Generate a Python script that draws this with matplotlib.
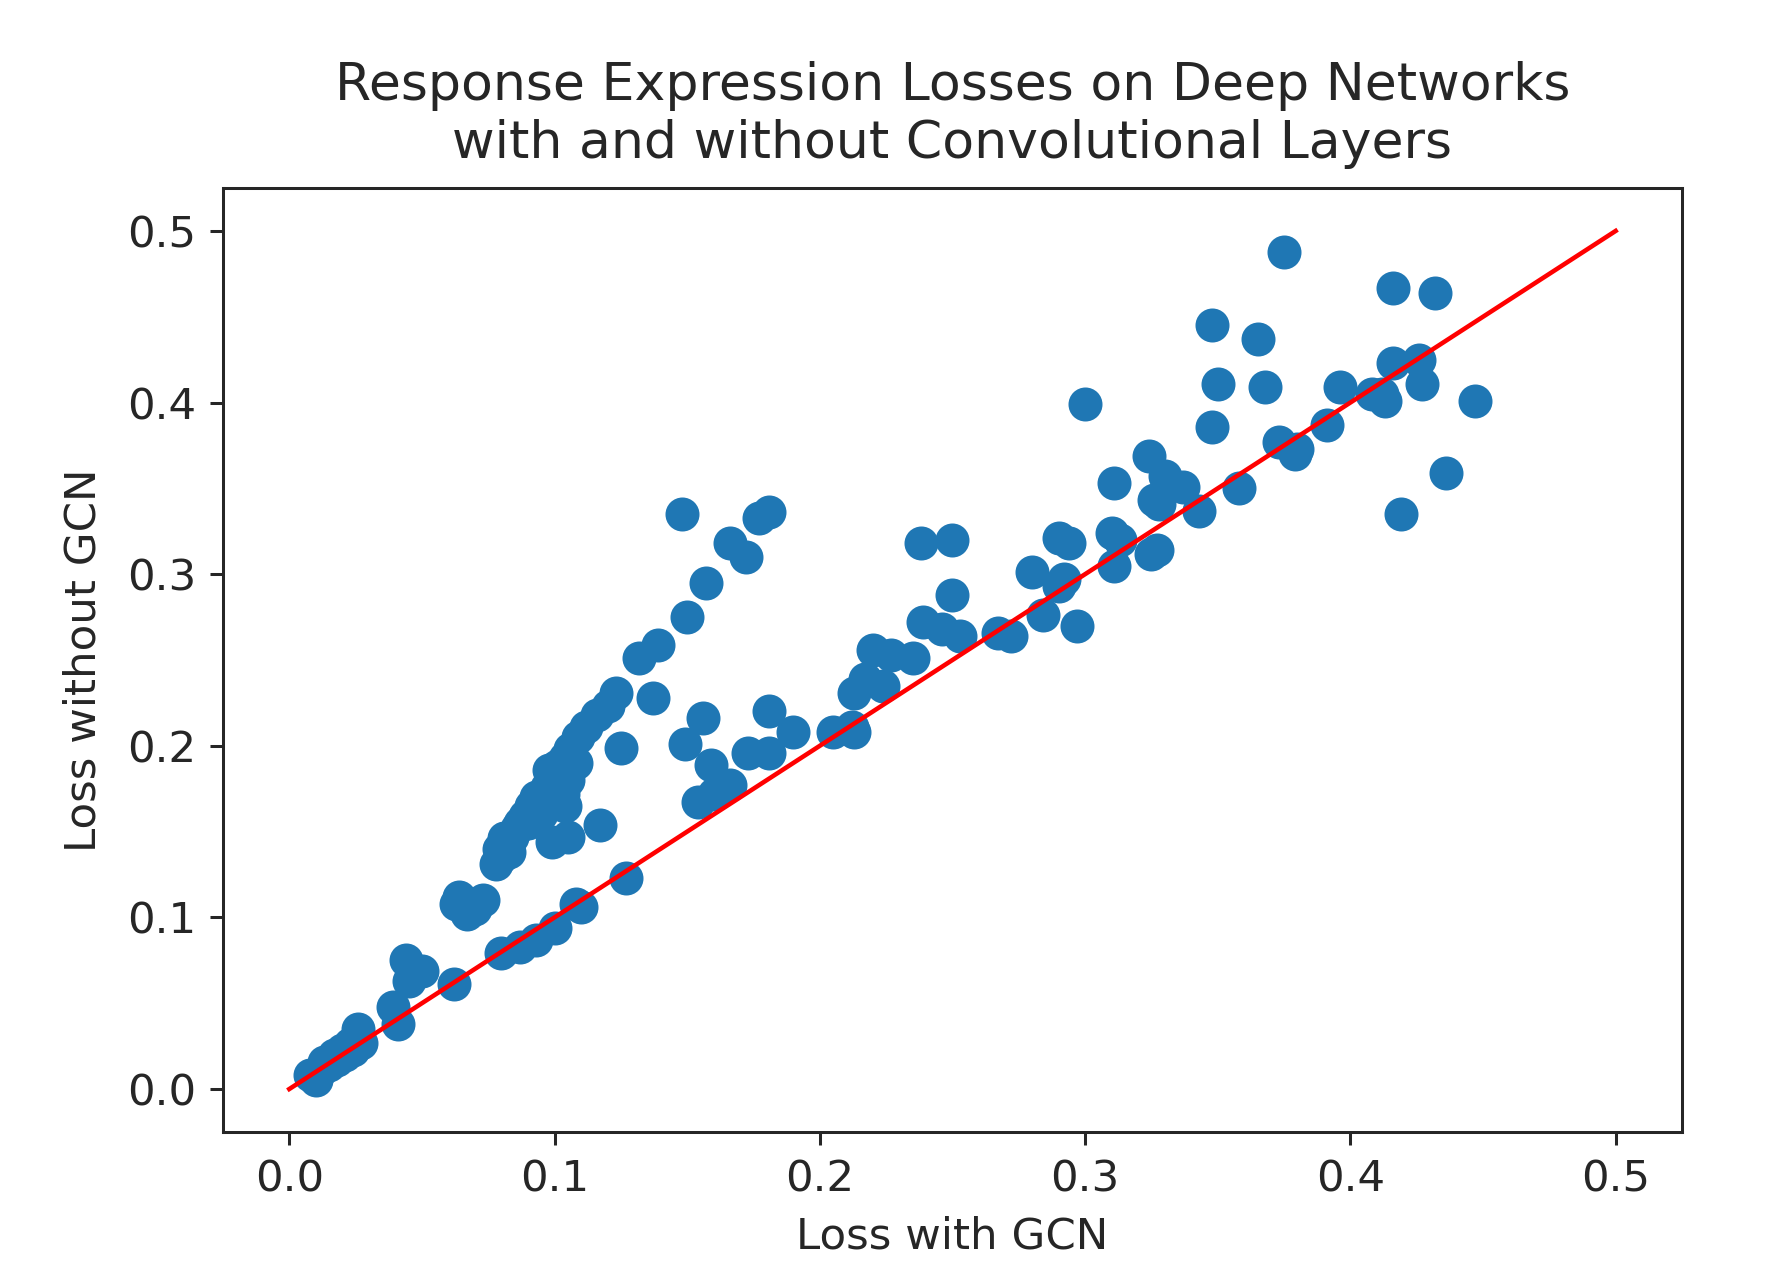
import matplotlib
matplotlib.use("Agg")
import matplotlib.pyplot as plt

# Loss with GCN (x) and without GCN (y)
loss_with_gcn = [
    # near origin, along the diagonal
    0.008, 0.010, 0.012, 0.013, 0.015, 0.017, 0.018, 0.020, 0.021, 0.023, 0.024, 0.027, 0.026,
    0.039, 0.041, 0.044, 0.050, 0.045, 0.062,
    0.064, 0.073, 0.067, 0.063, 0.070,
    # lower branch along diagonal
    0.080, 0.087, 0.093, 0.100, 0.108, 0.110, 0.127,
    # steep upper branch
    0.078, 0.079, 0.081, 0.086, 0.089, 0.094, 0.096, 0.101, 0.099, 0.101, 0.104, 0.106,
    0.109, 0.112, 0.116, 0.120, 0.123, 0.125, 0.137, 0.132, 0.139, 0.150, 0.157, 0.148,
    0.166, 0.172, 0.177, 0.181, 0.099, 0.105, 0.117,
    0.084, 0.091, 0.093, 0.097, 0.103, 0.105, 0.098, 0.095, 0.104, 0.102, 0.083, 0.080,
    0.090, 0.087, 0.108,
    # middle group
    0.156, 0.149, 0.159, 0.154, 0.166, 0.173, 0.181, 0.181, 0.160, 0.190, 0.205, 0.212,
    0.213, 0.213, 0.217, 0.224, 0.220, 0.227, 0.235, 0.239, 0.246, 0.253, 0.238, 0.250,
    0.250, 0.272, 0.284, 0.280, 0.267,
    0.290, 0.294, 0.292, 0.290, 0.297, 0.300,
    0.310, 0.313, 0.311, 0.325, 0.311, 0.324, 0.330, 0.337, 0.328, 0.343, 0.327, 0.326,
    0.358, 0.379,
    # upper right
    0.375, 0.416, 0.432, 0.348, 0.365, 0.350, 0.368, 0.348, 0.396,
    0.416, 0.426, 0.427, 0.412, 0.413, 0.408, 0.447, 0.391, 0.373, 0.380, 0.436, 0.419,
]
loss_without_gcn = [
    0.008, 0.005, 0.011, 0.016, 0.014, 0.020, 0.017, 0.023, 0.020, 0.026, 0.023, 0.027, 0.035,
    0.048, 0.038, 0.075, 0.069, 0.063, 0.061,
    0.112, 0.110, 0.102, 0.108, 0.105,
    0.079, 0.083, 0.087, 0.094, 0.108, 0.106, 0.123,
    0.131, 0.140, 0.146, 0.152, 0.159, 0.164, 0.172, 0.178, 0.183, 0.188, 0.193, 0.198,
    0.205, 0.211, 0.218, 0.223, 0.231, 0.199, 0.228, 0.251, 0.259, 0.275, 0.295, 0.335,
    0.318, 0.310, 0.333, 0.336, 0.144, 0.147, 0.154,
    0.147, 0.165, 0.170, 0.176, 0.172, 0.180, 0.186, 0.160, 0.165, 0.168, 0.138, 0.135,
    0.155, 0.155, 0.190,
    0.216, 0.201, 0.189, 0.167, 0.177, 0.196, 0.196, 0.220, 0.172, 0.208, 0.208, 0.211,
    0.231, 0.208, 0.239, 0.235, 0.256, 0.253, 0.251, 0.272, 0.268, 0.264, 0.318, 0.320,
    0.288, 0.264, 0.276, 0.301, 0.266,
    0.321, 0.318, 0.297, 0.293, 0.270, 0.399,
    0.324, 0.320, 0.305, 0.312, 0.353, 0.369, 0.357, 0.351, 0.341, 0.337, 0.314, 0.343,
    0.350, 0.370,
    0.488, 0.467, 0.464, 0.445, 0.437, 0.411, 0.409, 0.386, 0.409,
    0.423, 0.425, 0.411, 0.405, 0.401, 0.405, 0.401, 0.387, 0.377, 0.373, 0.359, 0.335,
]

diag_x = [0.0, 0.5]
diag_y = [0.0, 0.5]

title_text = "Response Expression Losses on Deep Networks\nwith and without Convolutional Layers"
x_label = "Loss with GCN"
y_label = "Loss without GCN"

TEXT_COLOR = "#262626"
DPI = 272
fig = plt.figure(figsize=(1775 / DPI, 1273 / DPI), dpi=DPI)
ax = fig.add_axes([0.1256, 0.1108, 0.822, 0.7415])

ax.scatter(loss_with_gcn, loss_without_gcn, s=64, color="#1f77b4")
ax.plot(diag_x, diag_y, color="red", linewidth=1.2)

ax.set_title(title_text, fontsize=13.8, color=TEXT_COLOR, pad=8)
ax.set_xlabel(x_label, fontsize=11.5, color=TEXT_COLOR, labelpad=4)
ax.set_ylabel(y_label, fontsize=11.5, color=TEXT_COLOR, labelpad=6)
ax.set_xticks([0.0, 0.1, 0.2, 0.3, 0.4, 0.5])
ax.set_yticks([0.0, 0.1, 0.2, 0.3, 0.4, 0.5])
ax.tick_params(labelsize=11.5, labelcolor=TEXT_COLOR, color=TEXT_COLOR)
for sp in ax.spines.values():
    sp.set_color(TEXT_COLOR)

fig.savefig("out.png", dpi=DPI)
